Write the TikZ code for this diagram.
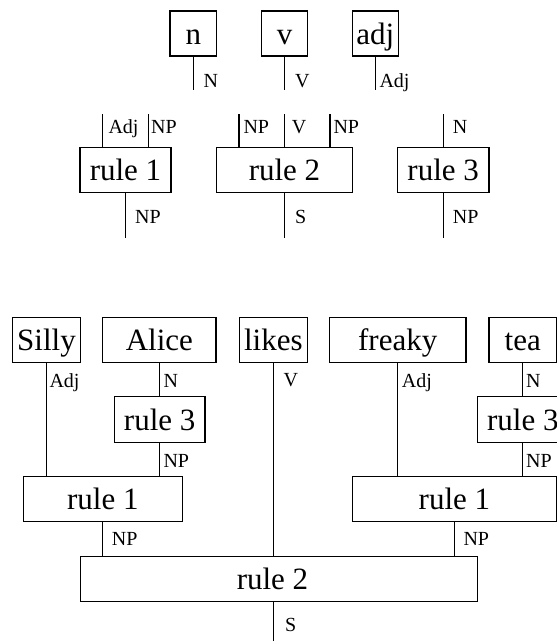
\documentclass[tikz,border=0pt]{standalone}
\usepackage{fontspec}
\setmainfont{Liberation Serif}
\begin{document}
\begin{tikzpicture}[x=1pt,y=-1pt,
  box/.style={draw, line width=1.3pt, inner sep=0pt, minimum height=45pt,
    text height=25pt, text depth=4pt, font=\fontsize{31}{31}\selectfont},
  lab/.style={anchor=base west, inner sep=0pt, font=\fontsize{20}{20}\selectfont},
  wire/.style={line width=1.3pt}]
\useasboundingbox (0,0) rectangle (557,641);

% ---------- top: generators and rules ----------
\node[box, minimum width=46.7pt] (n)   at (193.3,33.5) {n};
\node[box, minimum width=45.6pt] (v)   at (284.5,33.5) {v};
\node[box, minimum width=46pt]   (adj) at (375.3,33.5) {adj};
\coordinate (nE) at (193.3,90);
\coordinate (vE) at (284.5,90);
\coordinate (adjE) at (375.3,90);
\draw[wire] (n.south) -- (nE);
\draw[wire] (v.south) -- (vE);
\draw[wire] (adj.south) -- (adjE);
\node[lab] (lN) at (203.3,87) {N};
\node[lab] (lV) at (295,87) {V};
\node[lab] (lAdj) at (379.3,87) {Adj};

\node[box, minimum width=91pt]    (tr1) at (125.5,170.2) {rule 1};
\node[box, minimum width=135.6pt] (tr2) at (284.5,170.2) {rule 2};
\node[box, minimum width=91.7pt]  (tr3) at (443.2,170.2) {rule 3};

\coordinate (tr1a) at (102.7,114);
\coordinate (tr1b) at (148.3,114);
\coordinate (tr1o) at (125.5,238);
\draw[wire] (tr1a) -- (tr1a |- tr1.north);
\draw[wire] (tr1b) -- (tr1b |- tr1.north);
\draw[wire] (tr1.south) -- (tr1o);
\node[lab] (l1) at (108.3,133) {Adj};
\node[lab] (l2) at (151,133) {NP};
\node[lab] (l3) at (135,223) {NP};

\coordinate (tr2a) at (239,114);
\coordinate (tr2b) at (284.5,114);
\coordinate (tr2c) at (330,114);
\coordinate (tr2o) at (284.5,238);
\draw[wire] (tr2a) -- (tr2a |- tr2.north);
\draw[wire] (tr2b) -- (tr2b |- tr2.north);
\draw[wire] (tr2c) -- (tr2c |- tr2.north);
\draw[wire] (tr2.south) -- (tr2o);
\node[lab] (l4) at (243.3,133) {NP};
\node[lab] (l5) at (291.7,133) {V};
\node[lab] (l6) at (333.3,133) {NP};
\node[lab] (l7) at (295,223) {S};

\coordinate (tr3a) at (443.2,114);
\coordinate (tr3o) at (443.2,238);
\draw[wire] (tr3a) -- (tr3.north);
\draw[wire] (tr3.south) -- (tr3o);
\node[lab] (l8) at (452.7,133) {N};
\node[lab] (l9) at (452.7,223) {NP};

% ---------- bottom: the sentence ----------
\node[box, minimum width=68.4pt]  (silly)  at (46.5,340)  {Silly};
\node[box, minimum width=113.3pt] (alice)  at (159.4,340) {Alice};
\node[box, minimum width=68.3pt]  (likes)  at (273.3,340) {likes};
\node[box, minimum width=136.7pt] (freaky) at (397.7,340) {freaky};
\node[box, minimum width=67.7pt]  (tea)    at (522.8,340) {tea};

\node[box, minimum width=90.7pt, minimum height=46pt] (r3L) at (159.7,419.7) {rule 3};
\node[box, minimum width=90.7pt, minimum height=46pt] (r3R) at (522.8,419.7) {rule 3};
\node[box, minimum width=159pt] (r1L) at (102.8,498.8) {rule 1};
\node[box, minimum width=204pt] (r1R) at (454.4,498.8) {rule 1};
\node[box, minimum width=396.6pt] (r2) at (279,578.8) {rule 2\kern13pt};

\draw[wire] (silly.south) -- (silly.south |- r1L.north);
\draw[wire] (alice.south) -- (alice.south |- r3L.north);
\draw[wire] (r3L.south) -- (r3L.south |- r1L.north);
\draw[wire] (r1L.south) -- (r1L.south |- r2.north);
\draw[wire] (likes.south) -- (likes.south |- r2.north);
\draw[wire] (freaky.south) -- (freaky.south |- r1R.north);
\draw[wire] (tea.south) -- (tea.south |- r3R.north);
\draw[wire] (r3R.south) -- (r3R.south |- r1R.north);
\draw[wire] (r1R.south) -- (r1R.south |- r2.north);
\coordinate (sE) at (273.3,641);
\draw[wire] (sE |- r2.south) -- (sE);

\node[lab] (b1) at (49.3,387) {Adj};
\node[lab] (b2) at (163.3,387) {N};
\node[lab] (b3) at (283.3,386.5) {V};
\node[lab] (b4) at (401.7,387) {Adj};
\node[lab] (b5) at (526,387) {N};
\node[lab] (b6) at (163.3,467.5) {NP};
\node[lab] (b7) at (526,467) {NP};
\node[lab] (b8) at (111.7,545) {NP};
\node[lab] (b9) at (463.3,545) {NP};
\node[lab] (b10) at (285,631.5) {S};
\end{tikzpicture}
\end{document}
